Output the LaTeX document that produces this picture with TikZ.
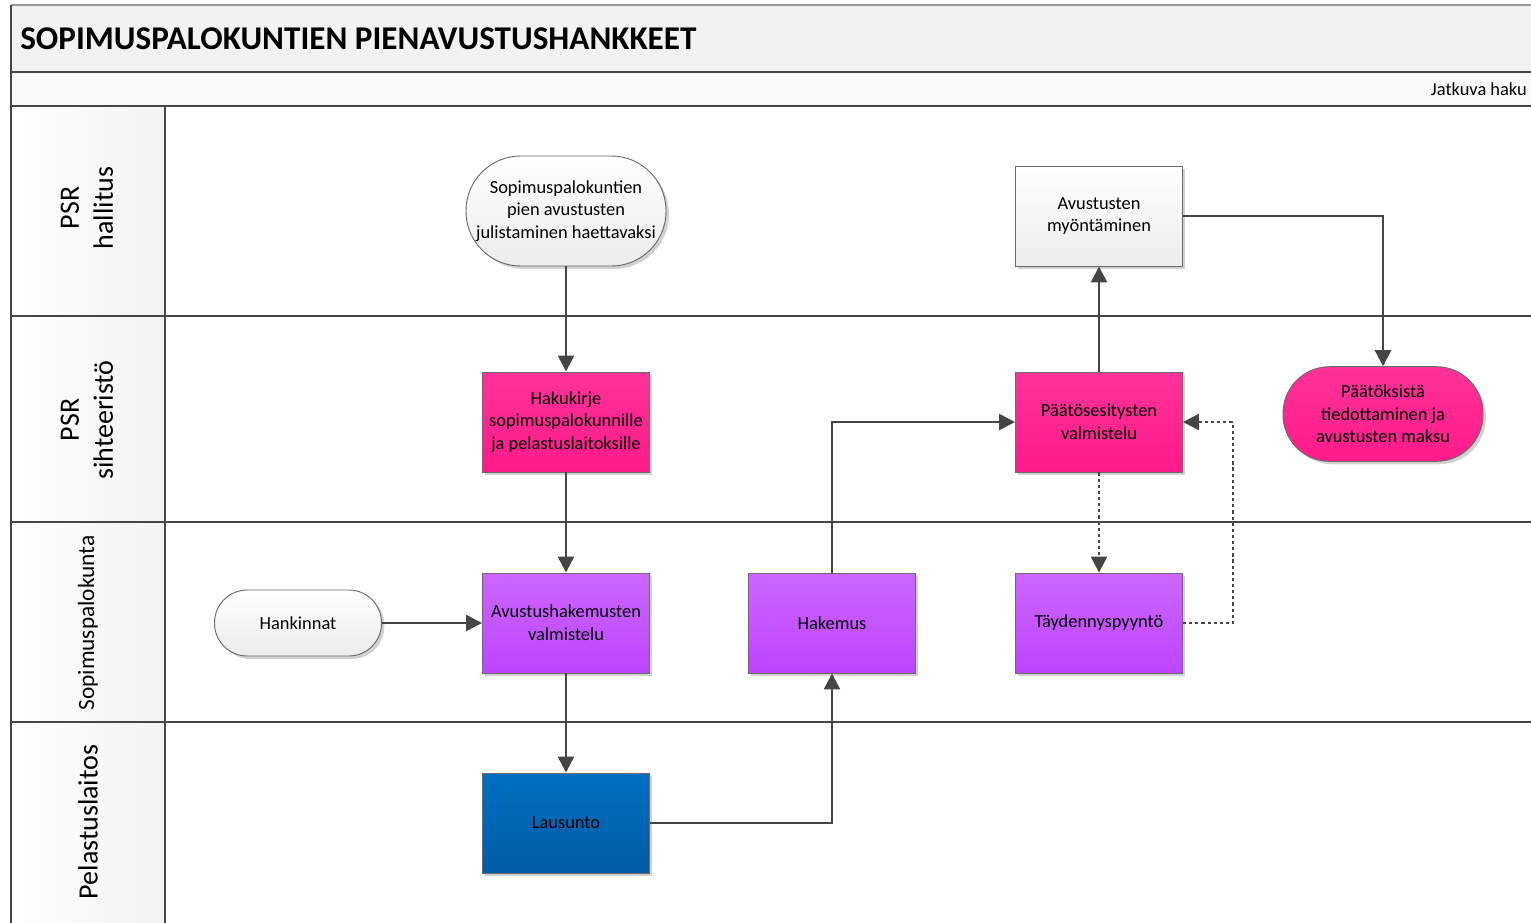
\documentclass[tikz,border=0pt]{standalone}
\usepackage{fontspec}
\setmainfont{Carlito}
\usetikzlibrary{arrows.meta,shadows}
\definecolor{lineg}{HTML}{454545}
\definecolor{pinkT}{HTML}{FF3399}
\definecolor{pinkB}{HTML}{FF1A8A}
\definecolor{purpT}{HTML}{CC66FF}
\definecolor{purpB}{HTML}{BE44FF}
\definecolor{blueT}{HTML}{0070C0}
\definecolor{blueB}{HTML}{005CA6}
\definecolor{grayT}{HTML}{FFFFFF}
\definecolor{grayB}{HTML}{ECECEC}
\definecolor{hdr}{HTML}{F2F2F2}
\tikzset{
  base/.style={draw=lineg!80, line width=0.7pt, align=center, text=black,
    font=\fontsize{13.8}{17}\selectfont,
    drop shadow={shadow xshift=2.2pt, shadow yshift=-2.2pt, fill=black, opacity=0.18}},
  box/.style={base, rectangle, minimum width=125.25pt, minimum height=75pt, inner sep=1pt},
  pinkbox/.style={box, top color=pinkT, bottom color=pinkB},
  purpbox/.style={box, top color=purpT, bottom color=purpB},
  bluebox/.style={box, top color=blueT, bottom color=blueB},
  graybox/.style={box, top color=grayT, bottom color=grayB},
  conn/.style={draw=lineg, line width=1.9pt, -{Triangle[width=12pt,length=12pt]}},
  dotconn/.style={conn, dash pattern=on 2.4pt off 2.2pt},
  frame/.style={draw=lineg, line width=1.6pt},
  lanelab/.style={rotate=90, align=center, text=black},
}
\begin{document}
\begin{tikzpicture}[x=0.75pt,y=-0.75pt]
\useasboundingbox (0,0) rectangle (1531,922);
\clip (0,0) rectangle (1531,922);
\fill[white] (0,0) rectangle (1531,922);
% header bands
\fill[hdr] (11,5) rectangle (1545,72);
\fill[white!50!hdr] (11,72) rectangle (1545,106);
% lane header column
\foreach \ya/\yb in {106/316,316/522,522/722,722/930}{
  \shade[left color=white, right color=hdr] (11,\ya) rectangle (165,\yb);
}
% lines
\draw[draw=gray!80, line width=1.5pt] (11,5) -- (1545,5);
\draw[frame] (11,72) -- (1545,72);
\draw[frame] (11,106) -- (1545,106);
\draw[frame] (11,316) -- (1545,316);
\draw[frame] (11,522) -- (1545,522);
\draw[frame] (11,722) -- (1545,722);
\draw[frame] (11,5) -- (11,930);
\draw[frame] (165,106) -- (165,930);
% titles
\node[anchor=west, font=\bfseries\fontsize{24.9}{29}\selectfont, inner sep=0pt] (title) at (20,39) {SOPIMUSPALOKUNTIEN PIENAVUSTUSHANKKEET};
\node[anchor=east, font=\fontsize{13.8}{16}\selectfont, inner sep=0pt] (jatk) at (1527,89) {Jatkuva haku};
% lane labels
\node[lanelab, font=\fontsize{21}{25.5}\selectfont] (l1) at (87,208) {PSR\\hallitus};
\node[lanelab, font=\fontsize{21}{25.5}\selectfont] (l2) at (87,420) {PSR\\sihteeristö};
\node[lanelab, font=\fontsize{17.5}{21}\selectfont] (l3) at (88,623) {Sopimuspalokunta};
\node[lanelab, font=\fontsize{21}{25}\selectfont] (l4) at (88,822) {Pelastuslaitos};
% nodes
\node[base, top color=grayT, bottom color=grayB, rounded corners=41pt, minimum width=150pt, minimum height=82.5pt, inner sep=0pt] (start) at (566,211) {Sopimuspalokuntien\\pien avustusten\\julistaminen haettavaksi};
\node[pinkbox] (haku) at (566,422) {Hakukirje\\sopimuspalokunnille\\ja pelastuslaitoksille};
\node[graybox] (myon) at (1099,216) {Avustusten\\myöntäminen};
\node[pinkbox] (paat) at (1099,422) {Päätösesitysten\\valmistelu};
\node[base, top color=pinkT, bottom color=pinkB, rounded corners=35pt, minimum width=150pt, minimum height=71pt, inner sep=0pt] (tied) at (1383,414) {Päätöksistä\\tiedottaminen ja\\avustusten maksu};
\node[base, top color=grayT, bottom color=grayB, rounded corners=24.5pt, minimum width=125.25pt, minimum height=49.5pt] (hank) at (298,623) {Hankinnat};
\node[purpbox] (avh) at (566,623) {Avustushakemusten\\valmistelu};
\node[purpbox] (hak) at (832,623) {Hakemus};
\node[purpbox] (tayd) at (1099,623) {Täydennyspyyntö};
\node[bluebox] (laus) at (566,823) {Lausunto};
\coordinate (loop) at (1233,422);
% connectors
\draw[conn] (start) -- (haku);
\draw[conn] (haku) -- (avh);
\draw[conn] (hank) -- (avh);
\draw[conn] (avh) -- (laus);
\draw[conn] (laus.east) -| (hak.south);
\draw[conn] (hak.north) |- (paat.west);
\draw[conn] (paat) -- (myon);
\draw[conn] (myon.east) -| (tied.north);
\draw[dotconn] (paat) -- (tayd);
\draw[dotconn] (tayd.east) -| (loop) -- (paat.east);
\end{tikzpicture}
\end{document}
